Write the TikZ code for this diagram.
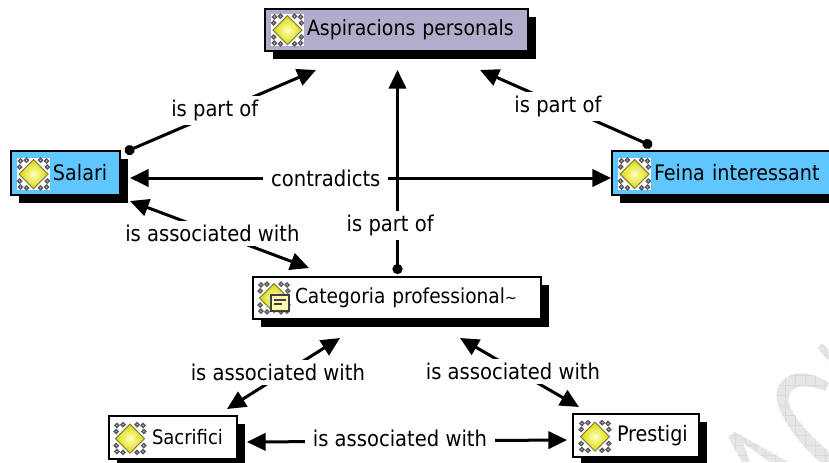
\documentclass[tikz,border=0pt]{standalone}
\usepackage{fontspec}
\setmainfont{DejaVu Sans Condensed}
\usepackage{tikz}
\usetikzlibrary{arrows.meta}
\usetikzlibrary{shadows}
\definecolor{mapblue}{HTML}{5FC6FF}
\definecolor{maplilac}{HTML}{AFADCB}
\definecolor{markgray}{HTML}{5E5E5E}
\definecolor{stampgray}{HTML}{E6E6E6}
\definecolor{stampline}{HTML}{DADADA}
\newcommand{\maplabel}[1]{\hspace*{31.5pt}#1}
\tikzset{concept/.style={shape=rectangle, draw=black, line width=1pt, inner xsep=0pt, inner ysep=0pt, outer sep=0pt, align=left, font=\fontsize{16}{18}\selectfont, drop shadow={shadow xshift=6pt, shadow yshift=-6pt, fill=black, opacity=1}}}
\tikzset{linkname/.style={fill=white, inner xsep=6pt, inner ysep=3pt, font=\fontsize{16.3}{18}\selectfont}}
\tikzset{partof/.style={line width=2.25pt, {Circle[length=7.5pt]}-{Triangle[length=14pt,width=13pt]}}}
\tikzset{twoway/.style={line width=2.25pt, {Triangle[length=14pt,width=13pt]}-{Triangle[length=14pt,width=13pt]}}}
\tikzset{conceptmark/.pic={
	\fill[white] (-16.5,-16) rectangle (16.5,16);
	\foreach \a in {45,135,225,315} {
		\draw[markgray, line width=1.2pt] (\a-18:15.5) circle (1.9);
		\draw[markgray, line width=1.2pt] (\a+18:15.5) circle (1.9);
		\draw[markgray, line width=1.2pt] (\a:18.5) circle (1.9);
	}
	\shade[inner color=yellow!25, outer color=yellow!85!black, draw=yellow!45!black, line width=.8pt] (0,-14.5) -- (14.5,0) -- (0,14.5) -- (-14.5,0) -- cycle;
}}
\tikzset{notemark/.pic={
	\fill[yellow!30!white, draw=black!75, line width=1pt] (-3,-3) rectangle (15,13);
	\draw[black!75, line width=.9pt] (0,2) -- (12,2) (0,6) -- (8,6);
}}
\begin{document}
\begin{tikzpicture}[x=.75pt, y=-.75pt]
	\path[use as bounding box, clip] (0,0) rectangle (829,462);
	\begin{scope}
		\clip (817,348) -- (822,343) -- (829,350) -- (829,361) -- cycle
			(829,383) .. controls (810,370) and (785,368) .. (777,390) .. controls (772,410) and (800,445) .. (820,462) -- (829,462) -- (829,452) .. controls (810,435) and (785,410) .. (789,396) .. controls (792,383) and (810,385) .. (825,391) -- cycle
			(728,437) -- (735,432) -- (788,462) -- (770,462) -- (743,443) -- (750,462) -- (742,462) -- cycle;
		\fill[stampgray] (720,335) rectangle (829,462);
		\foreach \gx in {725,735,...,825} \draw[stampline, line width=.4pt] (\gx,335) -- (\gx,462);
		\foreach \gy in {335,345,...,455} \draw[stampline, line width=.4pt] (720,\gy) -- (829,\gy);
	\end{scope}
	\node[concept, fill=maplilac, text width=197.25pt, minimum height=31.5pt, font=\fontsize{15.75}{18}\selectfont] (aspiracions) at (396.5,30) {\maplabel{Aspiracions personals}};
	\node[concept, fill=mapblue, text width=81.75pt, minimum height=33pt] (salari) at (65.5,173) {\maplabel{Salari}};
	\node[concept, fill=mapblue, text width=168pt, minimum height=33pt] (feina) at (724,173) {\maplabel{Feina interessant}};
	\node[concept, fill=white, text width=216pt, minimum height=31.5pt, font=\fontsize{15.5}{18}\selectfont] (categoria) at (397,298) {\maplabel{Categoria professional{\fontsize{12}{18}\selectfont\textasciitilde}}};
	\node[concept, fill=white, text width=96pt, minimum height=32.25pt, font=\fontsize{15}{18}\selectfont] (sacrifici) at (173,437.5) {\maplabel{\kern.75pt Sacrifici}};
	\node[concept, fill=white, text width=94.5pt, minimum height=32.25pt] (prestigi) at (636,435.5) {\maplabel{\kern1.5pt Prestigi}};
	\pic at ([shift={(22.5,0)}]aspiracions.west) {conceptmark};
	\pic at ([shift={(22.5,1)}]salari.west) {conceptmark};
	\pic at ([shift={(22.5,1)}]feina.west) {conceptmark};
	\pic at ([shift={(21,0)}]categoria.west) {conceptmark};
	\pic at ([shift={(21,0)}]categoria.west) {notemark};
	\pic at ([shift={(21,1)}]sacrifici.west) {conceptmark};
	\pic at ([shift={(22,1)}]prestigi.west) {conceptmark};
	\path [partof] ([shift={(5,1)}]salari.north east) edge node[linkname, pos=.47, yshift=2.5pt]{is part of} ([shift={(-80.5,19)}]aspiracions.south);
	\path [partof] ([shift={(40,-5)}]feina.north west) edge node[linkname, pos=.547, yshift=-1.5pt]{is part of} ([shift={(83.5,19)}]aspiracions.south);
	\path [partof] ([shift={(.5,-3)}]categoria.north) edge node[linkname, pos=.24, xshift=-5.5pt]{is part of} ([shift={(1,19)}]aspiracions.south);
	\path [twoway] ([shift={(10,5)}]salari.east) edge node[linkname, pos=.407]{contradicts} ([shift={(-1,5)}]feina.west);
	\path [twoway] ([shift={(10,6)}]salari.south east) edge node[linkname, pos=.46, yshift=-1.5pt]{is associated with} ([shift={(56,-9)}]categoria.north west);
	\path [twoway] ([shift={(54,-7)}]sacrifici.north) edge node[linkname, pos=.45, yshift=3.5pt]{is associated with} ([shift={(-57,19)}]categoria.south);
	\path [twoway] ([shift={(63,19)}]categoria.south) edge node[linkname, pos=.445, yshift=-2pt]{is associated with} ([shift={(-57,-7)}]prestigi.north);
	\path [twoway] ([shift={(10,4.5)}]sacrifici.east) edge node[linkname, pos=.478, yshift=2pt]{is associated with} ([shift={(-6,4.5)}]prestigi.west);
\end{tikzpicture}
\end{document}
